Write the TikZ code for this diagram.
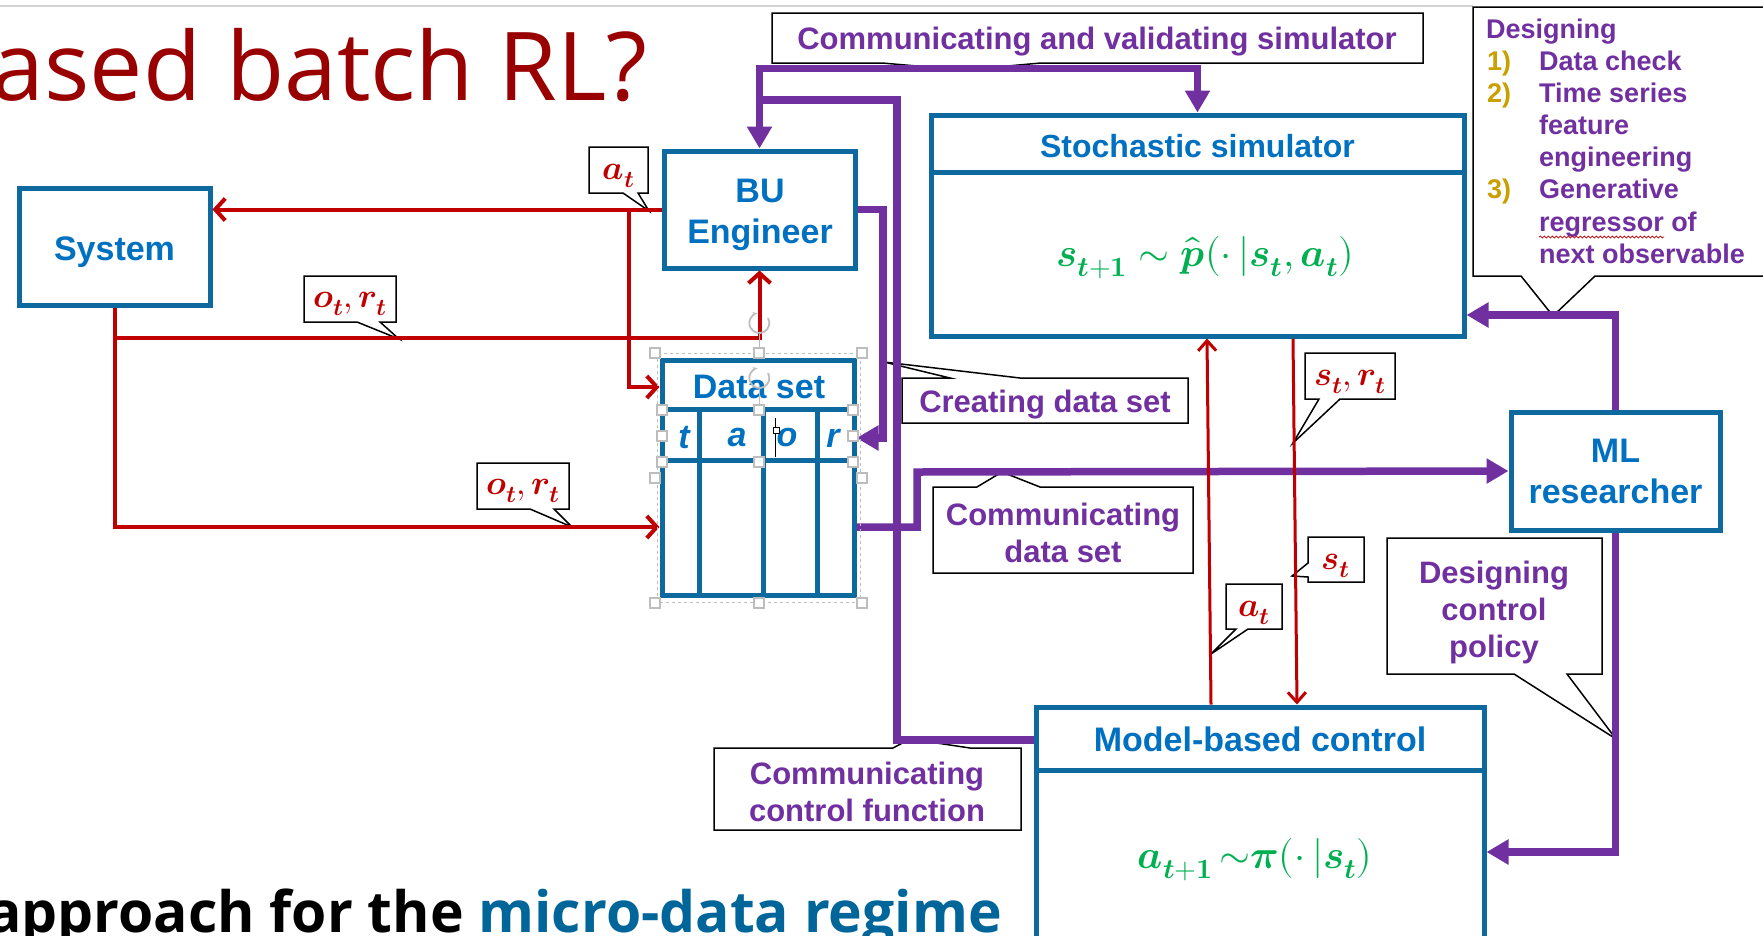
\documentclass[tikz,border=0pt]{standalone}
\usepackage{fontspec}
\usepackage{unicode-math}
\setmainfont{Liberation Sans}
\setmathfont{Latin Modern Math}
\newfontfamily\osans{Open Sans}
\usetikzlibrary{arrows.meta,calc,decorations.pathmorphing}
\definecolor{boxblue}{HTML}{0E6A9E}
\definecolor{txtblue}{HTML}{0070C0}
\definecolor{myred}{HTML}{C00000}
\definecolor{mypurple}{HTML}{7030A0}
\definecolor{mygreen}{HTML}{00B050}
\definecolor{mygold}{HTML}{C9A000}
\definecolor{titlered}{HTML}{990000}
\definecolor{regblue}{HTML}{006699}
\definecolor{handlegray}{HTML}{BDBDBD}
\newcommand{\bv}[1]{\symbfit{#1}}
\begin{document}
\begin{tikzpicture}[x=1pt,y=-1pt,
  blbox/.style={draw=boxblue, line width=5pt, fill=white},
  boxtxt/.style={text=txtblue, font=\fontsize{34}{41}\selectfont\bfseries, align=center},
  boxline/.style={draw=boxblue, line width=5pt},
  pline/.style={draw=mypurple, line width=7.5pt},
  parrow/.style={pline, -{Triangle[length=22pt,width=24pt]}},
  pboth/.style={pline, {Triangle[length=22pt,width=24pt]}-{Triangle[length=22pt,width=24pt]}},
  rline/.style={draw=myred, line width=4pt},
  rarrow/.style={rline, -{Straight Barb[length=10pt,width=22pt]}},
  rarrowthin/.style={draw=myred, line width=3pt, -{Straight Barb[length=10pt,width=18pt]}},
  callout/.style={draw=black, line width=1.5pt, fill=white, line join=miter},
  ptxt/.style={text=mypurple, font=\fontsize{31}{37}\selectfont\bfseries, align=center},
  rmath/.style={text=myred, font=\fontsize{34}{40}\selectfont},
  dtxt/.style={text=mypurple, font=\fontsize{27}{32}\selectfont\bfseries, inner sep=0, anchor=base west},
  dnum/.style={text=mygold, font=\fontsize{27}{32}\selectfont\bfseries, inner sep=0, anchor=base west},
  handle/.style={draw=handlegray, fill=white, minimum size=10pt, inner sep=0pt, line width=1.2pt},
  gmath/.style={text=mygreen, font=\fontsize{40}{46}\selectfont}
]
\useasboundingbox (0,0) rectangle (1763,935);

% top rule and slide texts
\draw[gray!35, line width=1.5pt] (0,6) -- (1473,6);
\node[anchor=base east, text=titlered, font=\osans\fontsize{95}{110}\selectfont, inner sep=0] (title) at (648,100) {ased batch RL?};
\node[anchor=base east, font=\osans\bfseries\fontsize{57}{66}\selectfont, inner sep=0] (sub) at (1002,932) {approach for the \textcolor{regblue}{micro-data regime}};

% boxes
\node[blbox, minimum width=191pt, minimum height=117pt] (sys) at (114.5,246.5) {};
\node[boxtxt] (syst) at (114.5,252) {System};
\node[blbox, minimum width=191pt, minimum height=117pt] (bu) at (759.5,209.5) {};
\node[boxtxt] (butxt) at (760,215) {BU\\Engineer};
\node[blbox, boxtxt, minimum width=209pt, minimum height=118pt] (ml) at (1615.5,471) {ML\\researcher};

\node[blbox, minimum width=533pt, minimum height=221pt] (stoch) at (1197.5,225.5) {};
\draw[boxline] (stoch.north west |- 0,172) -- (stoch.north east |- 0,172);
\node[boxtxt, font=\fontsize{32}{38}\selectfont\bfseries] (stocht) at (1197.5,146) {Stochastic simulator};
\node[gmath] (stochf) at (1205,258) {$\bv{s}_{\bv{t}\symbf{+1}}\sim\widehat{\bv{p}}(\cdot\,|\bv{s}_{\bv{t}},\bv{a}_{\bv{t}})$};

\node[blbox, minimum width=448pt, minimum height=238pt] (mbc) at (1260,826) {};
\draw[boxline] (mbc.north west |- 0,770) -- (mbc.north east |- 0,770);
\node[boxtxt] (mbct) at (1260,739) {Model-based control};
\node[gmath] (mbcf) at (1255,860) {$\bv{a}_{\bv{t}\symbf{+1}}\,{\sim}\bv{\pi}(\cdot\,|\bv{s}_{\bv{t}})$};

% data set table
\node[blbox, minimum width=192pt, minimum height=235pt] (ds) at (758,477.5) {};
\draw[boxline] (ds.west |- 0,409) -- (ds.east |- 0,409);
\draw[boxline] (ds.west |- 0,460) -- (ds.east |- 0,460);
\draw[boxline] (699,409) -- (699,595);
\draw[boxline] (763,409) -- (763,595);
\draw[boxline] (817,409) -- (817,595);
\node[boxtxt] (dst) at (759,387) {Data set};
\node[boxtxt, font=\fontsize{34}{41}\selectfont\bfseries\itshape] (ct) at (684,438) {t};
\node[boxtxt, font=\fontsize{34}{41}\selectfont\bfseries\itshape] (ca) at (737,438) {a};
\node[boxtxt, font=\fontsize{34}{41}\selectfont\bfseries\itshape] (co) at (787,438) {o};
\node[boxtxt, font=\fontsize{34}{41}\selectfont\bfseries\itshape] (cr) at (833,438) {r};

% callouts (red labels)
\draw[callout] (589,147) -- (648,147) -- (648,193) -- (638,193) -- (649,211) -- (623,193) -- (589,193) -- cycle;
\node[rmath] (la1) at (618.5,176) {$\bv{a}_{\bv{t}}$};
\draw[callout] (304,276) -- (396,276) -- (396,322) -- (380,322) -- (399,339) -- (357,322) -- (304,322) -- cycle;
\node[rmath] (lor1) at (350,304) {$\bv{o}_{\bv{t}},\bv{r}_{\bv{t}}$};
\draw[callout] (477,463) -- (569,463) -- (569,509) -- (554,509) -- (572,527) -- (530,509) -- (477,509) -- cycle;
\node[rmath] (lor2) at (523,491) {$\bv{o}_{\bv{t}},\bv{r}_{\bv{t}}$};
\draw[callout] (1305,353) -- (1395,353) -- (1395,399) -- (1340,399) -- (1293,443) -- (1319,399) -- (1305,399) -- cycle;
\node[rmath] (lsr) at (1350,382) {$\bv{s}_{\bv{t}},\bv{r}_{\bv{t}}$};
\draw[callout] (1308,537) -- (1364,537) -- (1364,582) -- (1308,582) -- (1308,577) -- (1292,576) -- (1308,563) -- cycle;
\node[rmath] (ls) at (1336,566) {$\bv{s}_{\bv{t}}$};
\draw[callout] (1226,584) -- (1282,584) -- (1282,629) -- (1248,629) -- (1211,654) -- (1236,629) -- (1226,629) -- cycle;
\node[rmath] (la2) at (1254,613) {$\bv{a}_{\bv{t}}$};

% callouts (purple)
\draw[callout] (772,13) -- (1423,13) -- (1423,63) -- (1041,63) -- (963,70) -- (882,63) -- (772,63) -- cycle;
\node[ptxt] (cvs) at (1097,42) {Communicating and validating simulator};
\draw[callout] (902,378) -- (950,378) -- (884,362) -- (1020,378) -- (1188,378) -- (1188,423) -- (902,423) -- cycle;
\node[ptxt] (cds) at (1045,405) {Creating data set};
\draw[callout] (933,487) -- (977,487) -- (1002,472) -- (1040,487) -- (1193,487) -- (1193,573) -- (933,573) -- cycle;
\node[ptxt] (comds) at (1063,533) {Communicating\\data set};
\draw[callout] (714,748) -- (893,748) -- (910,739) -- (970,748) -- (1021,748) -- (1021,830) -- (714,830) -- cycle;
\node[ptxt] (ccf) at (867,792) {Communicating\\control function};
\draw[callout] (1387,538) -- (1602,538) -- (1602,674) -- (1567,674) -- (1616,739) -- (1514,674) -- (1387,674) -- cycle;
\node[ptxt] (dcp) at (1494,612) {Designing\\control\\policy};
\draw[callout] (1473,7) -- (1775,7) -- (1775,276) -- (1595,276) -- (1553,316) -- (1521,276) -- (1473,276) -- cycle;
\node[dtxt] (d0) at (1486,38) {Designing};
\node[dnum] (n1) at (1487,70) {1)};
\node[dtxt] (d1) at (1539,70) {Data check};
\node[dnum] (n2) at (1487,102) {2)};
\node[dtxt] (d2) at (1539,102) {Time series};
\node[dtxt] (d3) at (1539,134) {feature};
\node[dtxt] (d4) at (1539,166) {engineering};
\node[dnum] (n3) at (1487,198) {3)};
\node[dtxt] (d5) at (1539,198) {Generative};
\node[dtxt] (d6) at (1539,231) {regressor of};
\node[dtxt] (d7) at (1539,263) {next observable};
\draw[myred, line width=0.7pt, decorate, decoration={snake, amplitude=1pt, segment length=4pt}] (d6.base west) ++(0,6) -- ++(125,0);

% purple connectors
\draw[pboth] (stoch.north) -- ++(0,-44) -| (bu.north);
\draw[pline] (mbc.north west |- 0,740) -- (897,740) -- (897,100) -- (bu.north |- 0,100);
\draw[parrow] (bu.east) -| (883,438) -- (ds.east |- 0,438);
\draw[parrow] (ds.east |- 0,527) -| (917,472) -- (ml.west);
\draw[parrow] (ml.north) |- (stoch.east |- 0,315);
\draw[parrow] (ml.south) |- (mbc.east |- 0,852);

% red connectors
\draw[rarrow] (bu.west) -- (bu.west -| sys.east);
\coordinate (j1) at (bu.west -| 629,0);
\draw[rarrow] (j1) |- (ds.west |- 0,387);
\draw[rarrow] (sys.south) |- (ds.west |- 0,527);
\coordinate (j2) at (sys.south |- 0,338);
\draw[rarrow] (j2) -| (bu.south);
\draw[rarrowthin] (mbc.north -| 1211,0) -- (stoch.south -| 1207,0);
\draw[rarrowthin] (stoch.south -| 1293,0) -- (mbc.north -| 1297,0);

% selection handles (screenshot artefacts)
\draw[handlegray, dashed, line width=0.8pt] (657,353) rectangle (860,602);
\draw[handlegray, line width=1pt] (759,334) -- (759,348);
\draw[handlegray, line width=1pt] (759,389) -- (759,405);
\foreach \hx/\hy in {655/353,759/353,862/353,655/478,862/478,655/603,759/603,862/603,662/410,759/410,853/410,662/436,853/436,662/462,759/462,853/462}
  \node[handle] at (\hx,\hy) {};
\draw[handlegray, line width=1.8pt, -{Stealth[length=5pt]}] (768,318) arc[start angle=-30, end angle=260, radius=10];
\draw[handlegray, line width=1.8pt, -{Stealth[length=5pt]}] (768,373) arc[start angle=-30, end angle=260, radius=10];
\draw[black, line width=1pt] (775,418) -- (775,457);
\draw[black, line width=1pt, fill=white] (773,427) rectangle (779,433);
\end{tikzpicture}
\end{document}
